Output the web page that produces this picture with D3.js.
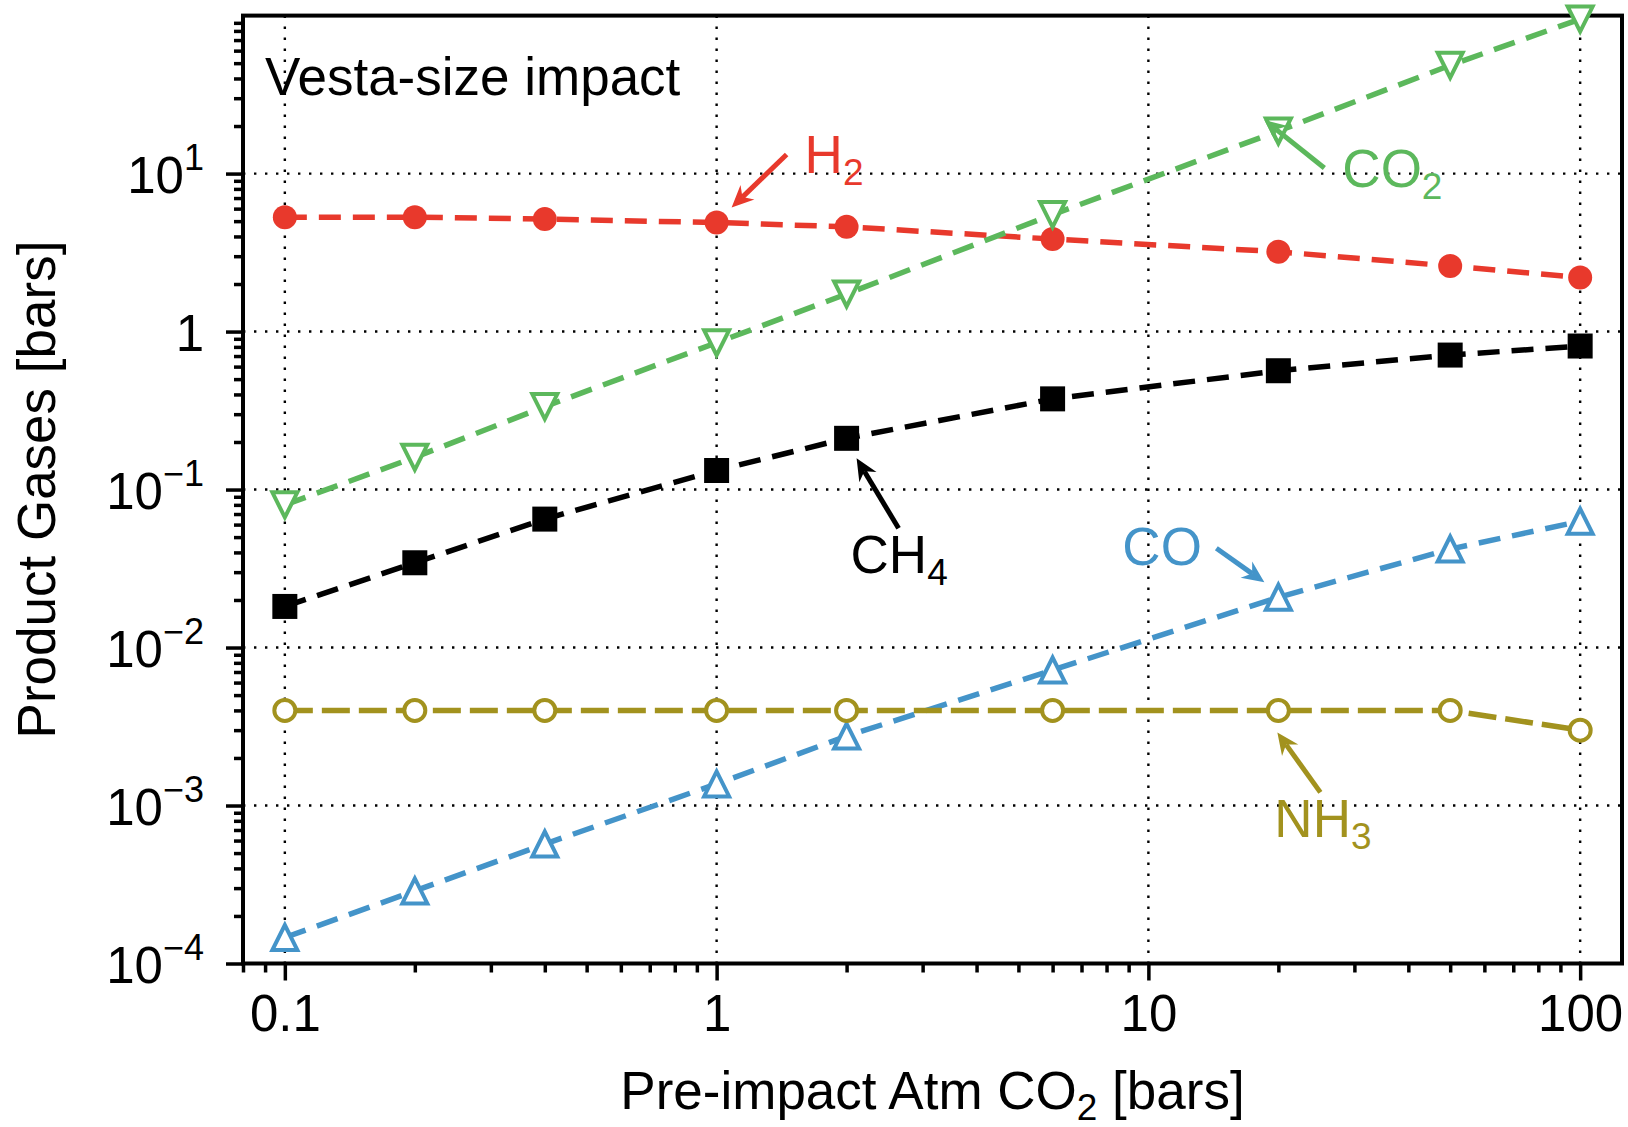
<!DOCTYPE html>
<html>
<head>
<meta charset="utf-8">
<script src="https://cdn.jsdelivr.net/npm/d3@7"></script>
<style>
  html, body { margin: 0; padding: 0; background: #fff; }
  svg { display: block; font-family: "Liberation Sans", Arial, Helvetica, sans-serif; }
</style>
</head>
<body>
<svg id="chart" width="1628" height="1127"></svg>
<script>
// Pre-impact atmospheric CO2 (bars)
const pressures = [0.1, 0.2, 0.4, 1, 2, 6, 20, 50, 100];

// Product gases after a Vesta-size impact (bars)
const h2  = [5.3, 5.3, 5.15, 4.9, 4.6, 3.85, 3.2, 2.6, 2.2];
const co2 = [0.08, 0.16, 0.335, 0.85, 1.73, 5.5, 18.6, 48.5, 95];
const ch4 = [0.0182, 0.0344, 0.065, 0.132, 0.211, 0.375, 0.565, 0.71, 0.81];
const co  = [1.46e-4, 2.88e-4, 5.7e-4, 1.37e-3, 2.75e-3, 7.2e-3, 0.0208, 0.042, 0.063];
const nh3 = [0.004, 0.004, 0.004, 0.004, 0.004, 0.004, 0.004, 0.004, 0.003];

// Axis ticks
const xMajorTicks = [0.1, 1, 10, 100];
const xTickLabels = ["0.1", "1", "10", "100"];
const yMajorTicks = [1e-4, 1e-3, 1e-2, 1e-1, 1, 10];
const yTickExponents = [-4, -3, -2, -1, 0, 1];

const series = [
  { name: "H2",  base: "H",  sub: "2", values: h2,  color: "#e8392c", marker: "circle",   dash: "22,12",
    note: { point: 3, tip: [15, -15], tail: [70, -68], label: [88, -50] } },
  { name: "CO2", base: "CO", sub: "2", values: co2, color: "#5cb85c", marker: "triDown",  dash: "22,12",
    note: { point: 6, tip: [-14, -11], tail: [46, 37], label: [64, 56] } },
  { name: "CH4", base: "CH", sub: "4", values: ch4, color: "#000000", marker: "square",   dash: "22,12",
    note: { point: 4, tip: [10, 20], tail: [52, 90], label: [4, 135] } },
  { name: "CO",  base: "CO", sub: "",  values: co,  color: "#4494c9", marker: "triUp",    dash: "22,12",
    note: { point: 6, tip: [-14, -15], tail: [-62, -49], label: [-156, -32] } },
  { name: "NH3", base: "NH", sub: "3", values: nh3, color: "#a2921e", marker: "circleOpen", dash: "28,9",
    note: { point: 6, tip: [-1, 22], tail: [42, 82], label: [-4, 127] } }
];

const svg = d3.select("#chart");
const W = 1628, H = 1127;
const plot = { left: 243, right: 1622, top: 15.6, bottom: 963.5 };

const x = d3.scaleLog().domain([0.08, 125]).range([plot.left, plot.right]);
const y = d3.scaleLog().domain([1e-4, 1e2]).range([plot.bottom, plot.top]);

svg.append("rect").attr("width", W).attr("height", H).attr("fill", "#fff");

// minor tick positions (2..9 per decade)
function minors(lo, hi) {
  const out = [];
  for (let e = Math.floor(Math.log10(lo)) - 1; e <= Math.ceil(Math.log10(hi)); e++) {
    for (let m = 2; m <= 9; m++) {
      const v = m * Math.pow(10, e);
      if (v >= lo * 0.9999 && v <= hi * 1.0001) out.push(v);
    }
  }
  return out;
}

// dotted grid at decades
const grid = svg.append("g").attr("stroke", "#000").attr("stroke-width", 2.4)
  .attr("stroke-dasharray", "2.4,8.6");
grid.selectAll("line.gx").data(xMajorTicks).join("line")
  .attr("x1", d => x(d)).attr("x2", d => x(d))
  .attr("y1", plot.top).attr("y2", plot.bottom);
grid.selectAll("line.gy").data(yMajorTicks.filter(d => d > 1e-4)).join("line")
  .attr("y1", d => y(d)).attr("y2", d => y(d))
  .attr("x1", plot.left).attr("x2", plot.right);

// axes
const tickStroke = 3.5;
const gxMinor = svg.append("g").attr("transform", `translate(0,${plot.bottom})`)
  .call(d3.axisBottom(x).tickValues(minors(0.08, 125)).tickSize(9).tickFormat(""));
const gxMajor = svg.append("g").attr("transform", `translate(0,${plot.bottom})`)
  .call(d3.axisBottom(x).tickValues(xMajorTicks).tickSize(17).tickPadding(15)
    .tickFormat((d, i) => xTickLabels[i]));
const gyMinor = svg.append("g").attr("transform", `translate(${plot.left},0)`)
  .call(d3.axisLeft(y).tickValues(minors(1e-4, 1e2)).tickSize(9).tickFormat(""));
const gyMajor = svg.append("g").attr("transform", `translate(${plot.left},0)`)
  .call(d3.axisLeft(y).tickValues(yMajorTicks).tickSize(17).tickPadding(22).tickFormat(""));

[gxMinor, gxMajor, gyMinor, gyMajor].forEach(g => {
  g.select(".domain").remove();
  g.selectAll(".tick line").attr("stroke", "#000").attr("stroke-width", tickStroke);
});

gxMajor.selectAll(".tick text")
  .attr("font-size", 51).attr("fill", "#000").attr("font-family", null)
  .attr("dy", null).attr("y", 1031 - plot.bottom);

// y labels: 10^n with superscript exponent
gyMajor.selectAll(".tick text").each(function(d, i) {
  const t = d3.select(this);
  const e = yTickExponents[i];
  t.text(null).attr("font-size", 51).attr("fill", "#000").attr("font-family", null)
    .attr("dy", null).attr("y", 19).attr("x", -39).attr("text-anchor", "end");
  if (e === 0) {
    t.text("1");
  } else {
    t.append("tspan").text("10");
    t.append("tspan").attr("font-size", 36).attr("dy", -23)
      .text(e < 0 ? "\u2212" + Math.abs(e) : String(e));
  }
});

// frame
svg.append("rect")
  .attr("x", plot.left).attr("y", plot.top)
  .attr("width", plot.right - plot.left).attr("height", plot.bottom - plot.top)
  .attr("fill", "none").attr("stroke", "#000").attr("stroke-width", 4);

// axis titles
const xTitle = svg.append("text")
  .attr("x", (plot.left + plot.right) / 2).attr("y", 1109)
  .attr("text-anchor", "middle").attr("font-size", 53).attr("fill", "#000");
xTitle.append("tspan").text("Pre-impact Atm CO");
xTitle.append("tspan").attr("font-size", 37).attr("dy", 11).text("2");
xTitle.append("tspan").attr("dy", -11).text(" [bars]");

svg.append("text")
  .attr("transform", `translate(55,${(plot.top + plot.bottom) / 2}) rotate(-90)`)
  .attr("text-anchor", "middle").attr("font-size", 53).attr("fill", "#000")
  .text("Product Gases [bars]");

// panel label
svg.append("text").attr("x", 265).attr("y", 95)
  .attr("font-size", 53).attr("fill", "#000").text("Vesta-size impact");

// data series
const line = d3.line().x(d => x(d[0])).y(d => y(d[1]));

function markerPath(kind) {
  const s = 12.5;
  if (kind === "triDown") return `M${-s},${-s}L${s},${-s}L0,${s}Z`;
  if (kind === "triUp") return `M${-s},${s}L${s},${s}L0,${-s}Z`;
  return null;
}

series.forEach(sr => {
  const pts = pressures.map((p, i) => [p, sr.values[i]]);
  const g = svg.append("g");
  g.append("path").datum(pts).attr("d", line)
    .attr("fill", "none").attr("stroke", sr.color).attr("stroke-width", 5.5)
    .attr("stroke-dasharray", sr.dash);

  const m = g.selectAll("g.m").data(pts).join("g")
    .attr("transform", d => `translate(${x(d[0])},${y(d[1])})`);
  if (sr.marker === "circle") {
    m.append("circle").attr("r", 12).attr("fill", sr.color);
  } else if (sr.marker === "square") {
    m.append("rect").attr("x", -12.5).attr("y", -12.5).attr("width", 25).attr("height", 25)
      .attr("fill", sr.color);
  } else if (sr.marker === "circleOpen") {
    m.append("circle").attr("r", 10.5).attr("fill", "#fff")
      .attr("stroke", sr.color).attr("stroke-width", 4);
  } else {
    m.append("path").attr("d", markerPath(sr.marker)).attr("fill", "#fff")
      .attr("stroke", sr.color).attr("stroke-width", 4).attr("stroke-linejoin", "miter");
  }
});

// annotations with arrows
function arrow(g, x0, y0, x1, y1, color) {
  const dx = x1 - x0, dy = y1 - y0, len = Math.hypot(dx, dy);
  const ux = dx / len, uy = dy / len, nx = -uy, ny = ux;
  const L = 22, Wd = 10, notch = 7;
  const bx = x1 - L * ux, by = y1 - L * uy;
  const kx = x1 - (L - notch) * ux, ky = y1 - (L - notch) * uy;
  g.append("line").attr("x1", x0).attr("y1", y0).attr("x2", kx).attr("y2", ky)
    .attr("stroke", color).attr("stroke-width", 5);
  g.append("path")
    .attr("d", `M${x1},${y1}L${bx + Wd * nx},${by + Wd * ny}L${kx},${ky}L${bx - Wd * nx},${by - Wd * ny}Z`)
    .attr("fill", color);
}

series.forEach(sr => {
  const n = sr.note;
  const px = x(pressures[n.point]), py = y(sr.values[n.point]);
  const g = svg.append("g");
  arrow(g, px + n.tail[0], py + n.tail[1], px + n.tip[0], py + n.tip[1], sr.color);
  const t = g.append("text").attr("x", px + n.label[0]).attr("y", py + n.label[1])
    .attr("font-size", 53).attr("fill", sr.color);
  t.append("tspan").text(sr.base);
  if (sr.sub) t.append("tspan").attr("font-size", 37).attr("dy", 12).text(sr.sub);
});
</script>
</body>
</html>
